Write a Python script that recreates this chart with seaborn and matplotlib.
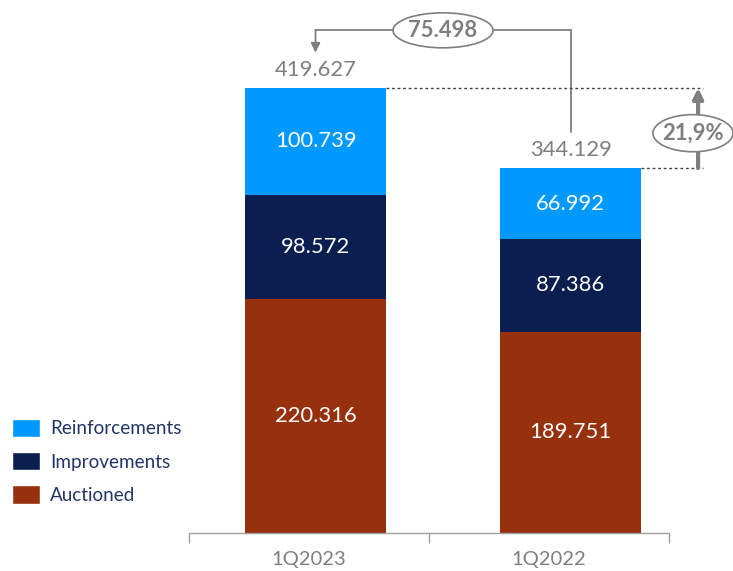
import numpy as np
import pandas as pd
import matplotlib
matplotlib.use("Agg")
import matplotlib.pyplot as plt
from matplotlib.patches import Ellipse, Patch
import seaborn as sns

# data
quarters = ["1Q2023", "1Q2022"]
auctioned = [220.316, 189.751]
improvements = [98.572, 87.386]
reinforcements = [100.739, 66.992]
totals = [419.627, 344.129]
diff_label = "75.498"
pct_label = "21,9%"

c_reinf = "#0099FF"
c_impr = "#0A1F4F"
c_auct = "#97300C"
gray = "#7F7F7F"
legend_txt = "#243665"


def fmt(v):
    return f"{v:.3f}"


df = pd.DataFrame({"quarter": quarters,
                   "auctioned": auctioned,
                   "improvements": improvements,
                   "reinforcements": reinforcements})
df["lvl2"] = df["auctioned"] + df["improvements"]
df["lvl3"] = df["lvl2"] + df["reinforcements"]

sns.set_style("white")
plt.rcParams["font.family"] = ["Lato", "DejaVu Sans"]

fig = plt.figure(figsize=(7.33, 5.71), dpi=100)
ax = fig.add_axes([189 / 733, 38 / 571, 480 / 733, 533 / 571])

bw = 0.553
# stacked look: draw the cumulative heights from the tallest down
sns.barplot(data=df, x="quarter", y="lvl3", color=c_reinf, width=bw, saturation=1,
            linewidth=0, ax=ax)
sns.barplot(data=df, x="quarter", y="lvl2", color=c_impr, width=bw, saturation=1,
            linewidth=0, ax=ax)
sns.barplot(data=df, x="quarter", y="auctioned", color=c_auct, width=bw, saturation=1,
            linewidth=0, ax=ax)

ax.set_xlim(-0.496, 1.386)
ax.set_ylim(0, 502.6)
ax.set_xlabel("")
ax.set_ylabel("")
ax.set_yticks([])

# segment labels
for i in range(len(quarters)):
    bottom = 0
    for vals in (auctioned, improvements, reinforcements):
        v = vals[i]
        ax.text(i, bottom + v / 2, fmt(v), ha="center", va="center",
                color="white", fontsize=15.8)
        bottom += v
    ax.text(i, totals[i] + 17, fmt(totals[i]), ha="center", va="center",
            color=gray, fontsize=15.8)

# axis: boundary ticks, labels centred between them
bounds = [-0.496, 0.445, 1.386]
ax.set_xticks(bounds, labels=["", "", ""])
ax.set_xticks([(bounds[0] + bounds[1]) / 2, (bounds[1] + bounds[2]) / 2],
              labels=quarters, minor=True)
ax.tick_params(axis="x", which="major", length=7, width=1, color="#A0A0A0",
               direction="out", bottom=True)
ax.tick_params(axis="x", which="minor", length=0, pad=13, labelsize=14.5,
               labelcolor=gray)
for s in ["left", "top", "right"]:
    ax.spines[s].set_visible(False)
ax.spines["bottom"].set_color("#A0A0A0")
ax.spines["bottom"].set_linewidth(1)

# difference connector on top
y_low = totals[1] + 34
y_top = 474
y_head = 453
ax.plot([1, 1, 0], [y_low, y_top, y_top], color=gray, lw=1.3, clip_on=False,
        solid_joinstyle="miter")
ax.annotate("", xy=(0, y_head), xytext=(0, y_top + 0.6),
            arrowprops=dict(arrowstyle="-|>", color=gray, lw=1.3,
                            mutation_scale=14, shrinkA=0, shrinkB=0),
            annotation_clip=False)
ax.add_patch(Ellipse((0.5, y_top), 0.392, 33, facecolor="white",
                     edgecolor=gray, lw=1.2, zorder=5, clip_on=False))
ax.text(0.5, y_top, diff_label, ha="center", va="center", color=gray,
        fontsize=15.8, fontweight="bold", zorder=6)

# percent change on the right
xr_end = 1.52
ax.plot([bw / 2, xr_end], [totals[0]] * 2, ls=(0, (2, 2)), color="#404040",
        lw=1, clip_on=False)
ax.plot([1 + bw / 2, xr_end], [totals[1]] * 2, ls=(0, (2, 2)), color="#404040",
        lw=1, clip_on=False)
ax.annotate("", xy=(1.5, totals[0]), xytext=(1.5, totals[1]),
            arrowprops=dict(arrowstyle="-|>", color=gray, lw=3,
                            mutation_scale=15, shrinkA=0, shrinkB=0),
            annotation_clip=False)
ax.add_patch(Ellipse((1.48, 377), 0.314, 35, facecolor="white",
                     edgecolor=gray, lw=1.2, zorder=5, clip_on=False))
ax.text(1.48, 377, pct_label, ha="center", va="center", color=gray,
        fontsize=15.8, fontweight="bold", zorder=6)

handles = [Patch(facecolor=c_reinf), Patch(facecolor=c_impr), Patch(facecolor=c_auct)]
fig.legend(handles, ["Reinforcements", "Improvements", "Auctioned"],
           loc="upper left", bbox_to_anchor=(12 / 733, 1 - 419 / 571),
           frameon=False, fontsize=13.6, handlelength=1.48, handleheight=1.1,
           labelspacing=0.78, handletextpad=0.53, borderpad=0, borderaxespad=0,
           labelcolor=legend_txt)

fig.savefig("out.png", dpi=100)
